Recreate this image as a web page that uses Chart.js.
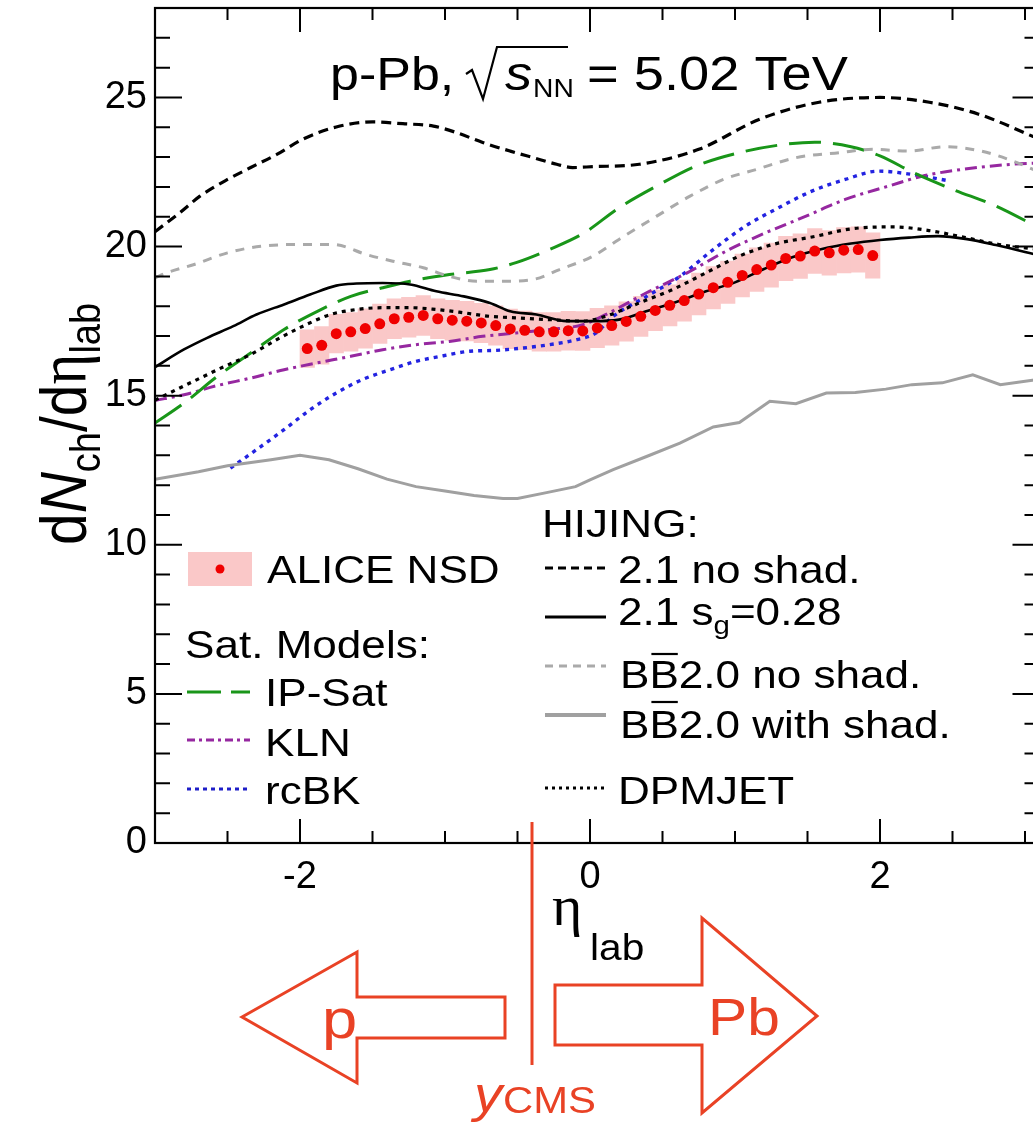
<!doctype html>
<html>
<head>
<title>dNch/deta p-Pb 5.02 TeV</title>
<script src="https://cdn.jsdelivr.net/npm/chart.js@4.4.0/dist/chart.umd.min.js"></script>
<style>
  html, body { margin: 0; padding: 0; overflow: hidden; background: #fff; }
  #wrap { width: 1045px; height: 1122px; }
</style>
</head>
<body>
<div id="wrap"><canvas id="canvas" width="1045" height="1122"></canvas></div>
<script>
// ALICE NSD data points (eta_lab, value, systematic)
const aliceEta = [-1.95, -1.85, -1.75, -1.65, -1.55, -1.45, -1.35, -1.25, -1.15, -1.05,
                  -0.95, -0.85, -0.75, -0.65, -0.55, -0.45, -0.35, -0.25, -0.15, -0.05,
                  0.05, 0.15, 0.25, 0.35, 0.45, 0.55, 0.65, 0.75, 0.85, 0.95,
                  1.05, 1.15, 1.25, 1.35, 1.45, 1.55, 1.65, 1.75, 1.85, 1.95];
const aliceVal = [16.58, 16.69, 17.08, 17.14, 17.25, 17.41, 17.58, 17.63, 17.69, 17.58,
                  17.53, 17.50, 17.44, 17.35, 17.24, 17.19, 17.14, 17.14, 17.18, 17.17,
                  17.27, 17.35, 17.49, 17.66, 17.86, 18.03, 18.19, 18.41, 18.62, 18.80,
                  19.03, 19.23, 19.38, 19.60, 19.68, 19.85, 19.79, 19.88, 19.90, 19.70];
const aliceSys = [0.63, 0.63, 0.65, 0.65, 0.66, 0.66, 0.67, 0.67, 0.67, 0.67,
                  0.67, 0.66, 0.66, 0.66, 0.66, 0.65, 0.65, 0.65, 0.65, 0.65,
                  0.66, 0.66, 0.66, 0.67, 0.68, 0.69, 0.69, 0.70, 0.71, 0.71,
                  0.72, 0.73, 0.74, 0.74, 0.75, 0.75, 0.75, 0.76, 0.76, 0.76];

// HIJING 2.1 no shadowing
const hijNoShadEta = [-3.0, -2.83, -2.69, -2.5, -2.34, -2.16, -1.98, -1.75, -1.5, -1.29, -1.08, -0.92, -0.74,
                      -0.55, -0.39, -0.23, -0.12, 0.02, 0.34, 0.75, 1.17, 1.58, 2.0, 2.34, 2.68, 3.1];
const hijNoShadVal = [20.5, 21.13, 21.69, 22.25, 22.65, 23.09, 23.6, 24.01, 24.18, 24.12, 24.04, 23.82, 23.49,
                      23.2, 22.98, 22.76, 22.65, 22.68, 22.76, 23.26, 24.27, 24.84, 25.0, 24.84, 24.44, 23.6];
// HIJING 2.1 s_g = 0.28
const hijSgEta = [-3.0, -2.8, -2.64, -2.46, -2.3, -2.11, -1.93, -1.75, -1.61, -1.43, -1.24, -1.06, -0.87,
                  -0.69, -0.55, -0.37, -0.16, 0.02, 0.2, 0.4, 0.6, 0.8, 1.0, 1.2, 1.4, 1.6, 1.8, 2.0,
                  2.2, 2.4, 2.6, 2.8, 3.1];
const hijSgVal = [15.96, 16.55, 16.94, 17.33, 17.72, 18.06, 18.39, 18.69, 18.76, 18.78, 18.73, 18.5, 18.33,
                  18.11, 17.83, 17.72, 17.5, 17.5, 17.55, 17.85, 18.15, 18.5, 18.8, 19.25, 19.65, 19.92, 20.1, 20.22,
                  20.3, 20.35, 20.25, 20.05, 19.7];
// HIJING BB2.0 no shadowing
const bbNoShadEta = [-3.0, -2.92, -2.73, -2.5, -2.27, -2.0, -1.77, -1.54, -1.36, -1.15, -0.97, -0.78, -0.6,
                     -0.39, -0.21, 0.02, 0.2, 0.46, 0.69, 0.92, 1.15, 1.42, 1.72, 1.95, 2.2, 2.45, 2.7, 2.9, 3.1];
const bbNoShadVal = [18.95, 19.12, 19.4, 19.79, 20.01, 20.07, 20.07, 19.73, 19.51, 19.29, 19.0, 18.84, 18.84,
                     18.9, 19.23, 19.68, 20.24, 21.02, 21.69, 22.25, 22.59, 22.98, 23.15, 23.26, 23.2, 23.35, 23.2, 22.9, 22.5];
// HIJING BB2.0 with shadowing
const bbShadEta = [-3.0, -2.7, -2.5, -2.2, -2.0, -1.8, -1.6, -1.4, -1.2, -1.0, -0.8, -0.6, -0.5, -0.3, -0.1,
                   0.0, 0.16, 0.39, 0.62, 0.85, 1.03, 1.24, 1.42, 1.63, 1.83, 2.04, 2.22, 2.43, 2.64, 2.83, 3.1];
const bbShadVal = [12.2, 12.45, 12.65, 12.85, 13.0, 12.85, 12.55, 12.2, 11.95, 11.8, 11.65, 11.55, 11.55, 11.75, 11.95,
                   12.18, 12.52, 12.96, 13.41, 13.95, 14.1, 14.81, 14.73, 15.09, 15.11, 15.22, 15.37, 15.43, 15.7, 15.37, 15.55];
// DPMJET
const dpmEta = [-3.0, -2.9, -2.71, -2.53, -2.34, -2.16, -1.98, -1.79, -1.61, -1.43, -1.24, -1.06, -0.87, -0.69,
                -0.51, -0.28, -0.05, 0.1, 0.34, 0.57, 0.8, 1.03, 1.26, 1.54, 1.81, 2.09, 2.36, 2.59, 2.82, 3.1];
const dpmVal = [14.85, 15.09, 15.54, 15.96, 16.38, 16.88, 17.33, 17.72, 17.89, 17.95, 17.95, 17.89, 17.78, 17.66,
                17.61, 17.55, 17.5, 17.65, 18.11, 18.56, 19.12, 19.68, 20.07, 20.33, 20.6, 20.66, 20.52, 20.3, 20.07, 19.9];
// Saturation models
const ipSatEta = [-3.0, -2.8, -2.57, -2.34, -2.11, -1.88, -1.65, -1.43, -1.24, -0.97, -0.69, -0.51, -0.28, -0.04,
                  0.2, 0.46, 0.73, 1.03, 1.3, 1.55, 1.8, 2.0, 2.23, 2.5, 2.8, 3.1];
const ipSatVal = [14.08, 14.75, 15.65, 16.43, 17.22, 17.83, 18.33, 18.62, 18.84, 19.06, 19.23, 19.46, 19.9, 20.46,
                  21.3, 22.03, 22.7, 23.15, 23.4, 23.5, 23.35, 23.04, 22.48, 21.92, 21.36, 20.62];
const klnEta = [-3.0, -2.8, -2.57, -2.34, -2.11, -1.88, -1.65, -1.43, -1.2, -0.97, -0.74, -0.51, -0.28, -0.05,
                0.1, 0.39, 0.67, 0.96, 1.21, 1.49, 1.76, 2.06, 2.29, 2.57, 2.91, 3.1];
const klnVal = [14.84, 15.03, 15.34, 15.59, 15.87, 16.1, 16.32, 16.54, 16.71, 16.82, 16.99, 17.1, 17.22, 17.38,
                17.7, 18.45, 19.12, 19.9, 20.46, 21.02, 21.58, 22.03, 22.36, 22.59, 22.76, 22.8];
const rcbkEta = [-2.48, -2.3, -2.11, -1.93, -1.75, -1.57, -1.38, -1.2, -1.01, -0.83, -0.65, -0.46, -0.28, -0.09,
                 0.04, 0.16, 0.39, 0.62, 0.85, 1.07, 1.3, 1.53, 1.76, 1.99, 2.22, 2.48];
const rcbkVal = [12.57, 13.19, 13.86, 14.53, 15.09, 15.54, 15.87, 16.15, 16.34, 16.49, 16.52, 16.6, 16.71, 16.88,
                 17.1, 17.66, 18.33, 19.0, 19.9, 20.68, 21.3, 21.86, 22.25, 22.53, 22.42, 22.2];

const yCMS = -0.4;
const xMin = -3, xMax = 3.1, yMin = 0, yMax = 28;

const RED = 'rgb(233,66,37)';
const PINK = 'rgb(250,200,200)';
const SX = 1.13;   // text in the figure is a bit wide

function pts(xs, ys) { return xs.map((x, i) => ({ x: x, y: ys[i] })); }

function curve(label, xs, ys, color, dash, width, smooth) {
    return {
        type: 'line', label: label, data: pts(xs, ys),
        borderColor: color, borderWidth: width, borderDash: dash,
        pointRadius: 0, fill: false, order: 5,
        cubicInterpolationMode: smooth ? 'monotone' : 'default', tension: 0
    };
}

function stext(ctx, s, x, y, font, color) {
    ctx.save();
    ctx.font = font;
    ctx.fillStyle = color || '#000';
    ctx.textBaseline = 'alphabetic';
    ctx.textAlign = 'left';
    ctx.translate(x, y);
    ctx.scale(SX, 1);
    ctx.fillText(s, 0, 0);
    const w = ctx.measureText(s).width * SX;
    ctx.restore();
    return w;
}

function seg(ctx, x0, x1, y, color, dash, width) {
    ctx.save();
    ctx.strokeStyle = color; ctx.lineWidth = width; ctx.setLineDash(dash);
    ctx.beginPath(); ctx.moveTo(x0, y); ctx.lineTo(x1, y); ctx.stroke();
    ctx.restore();
}

const F = '39px "Liberation Sans", Arial, sans-serif';

const decorations = {
    id: 'decorations',
    afterDraw(chart) {
        const ctx = chart.ctx;
        const a = chart.chartArea;
        const xs = chart.scales.x, ys = chart.scales.y;

        // frame and inward ticks
        ctx.save();
        ctx.strokeStyle = '#000';
        ctx.lineWidth = 2.2;
        ctx.setLineDash([]);
        ctx.strokeRect(a.left, a.top, a.right - a.left, a.bottom - a.top);
        ctx.lineWidth = 2;
        ctx.beginPath();
        for (let k = -6; k <= 6; k++) {
            const px = xs.getPixelForValue(k * 0.5);
            const len = (k % 4 === 0) ? 24 : 12;
            ctx.moveTo(px, a.bottom); ctx.lineTo(px, a.bottom - len);
            ctx.moveTo(px, a.top); ctx.lineTo(px, a.top + len);
        }
        for (let v = 0; v <= 28; v++) {
            const py = ys.getPixelForValue(v);
            const len = (v % 5 === 0) ? 27 : 15;
            ctx.moveTo(a.left, py); ctx.lineTo(a.left + len, py);
            ctx.moveTo(a.right, py); ctx.lineTo(a.right - len, py);
        }
        ctx.stroke();
        ctx.restore();

        // title
        const tb = 90;
        stext(ctx, 'p-Pb,', 330, tb, '46px "Liberation Sans", Arial, sans-serif');
        ctx.save();
        ctx.strokeStyle = '#000'; ctx.lineWidth = 2.2; ctx.setLineDash([]);
        ctx.beginPath();
        ctx.moveTo(466, 74); ctx.lineTo(472, 70); ctx.lineTo(483, 99);
        ctx.lineTo(497, 47); ctx.lineTo(568, 47);
        ctx.stroke();
        ctx.restore();
        stext(ctx, 's', 505, tb, 'italic 48px "Liberation Sans", Arial, sans-serif');
        stext(ctx, 'NN', 533, tb + 7, '25px "Liberation Sans", Arial, sans-serif');
        stext(ctx, '= 5.02 TeV', 587, tb, '48px "Liberation Sans", Arial, sans-serif');

        // y axis title (rotated)
        ctx.save();
        ctx.translate(86, 545);
        ctx.rotate(-Math.PI / 2);
        ctx.scale(1, SX);
        ctx.fillStyle = '#000';
        ctx.textBaseline = 'alphabetic';
        let t = 0;
        const big = '57px "Liberation Sans", Arial, sans-serif';
        const sub = '38px "Liberation Sans", Arial, sans-serif';
        ctx.font = big; ctx.fillText('d', t, 0); t += ctx.measureText('d').width;
        ctx.font = 'italic ' + big; ctx.fillText('N', t, 0); t += ctx.measureText('N').width;
        ctx.font = sub; ctx.fillText('ch', t, 12); t += ctx.measureText('ch').width;
        ctx.font = big; ctx.fillText('/d', t, 0); t += ctx.measureText('/d').width;
        ctx.font = '59px "Liberation Serif", serif'; ctx.fillText('\u03b7', t, 0); t += ctx.measureText('\u03b7').width;
        ctx.font = sub; ctx.fillText('lab', t, 12);
        ctx.restore();

        // left legend
        ctx.save();
        ctx.fillStyle = PINK; ctx.fillRect(188, 552, 64, 34);
        ctx.fillStyle = 'rgb(240,0,0)';
        ctx.beginPath(); ctx.arc(220, 569, 4.5, 0, Math.PI * 2); ctx.fill();
        ctx.restore();
        stext(ctx, 'ALICE NSD', 267, 583, F);
        stext(ctx, 'Sat. Models:', 185, 658, F);
        seg(ctx, 187, 250, 692, 'rgb(25,150,25)', [34, 10], 3);
        stext(ctx, 'IP-Sat', 265, 706, F);
        seg(ctx, 187, 250, 740, 'rgb(150,40,160)', [8, 4, 3, 4], 3);
        stext(ctx, 'KLN', 265, 756, F);
        seg(ctx, 187, 250, 789, 'rgb(30,30,200)', [4, 4], 3);
        stext(ctx, 'rcBK', 265, 804, F);

        // right legend
        stext(ctx, 'HIJING:', 542, 537, F);
        seg(ctx, 545, 606, 568, '#000', [8, 5], 3);
        stext(ctx, '2.1 no shad.', 618, 583, F);
        seg(ctx, 545, 606, 617, '#000', [], 3);
        const w = stext(ctx, '2.1 s', 618, 625, F);
        const w2 = stext(ctx, 'g', 618 + w, 634, '26px "Liberation Sans", Arial, sans-serif');
        stext(ctx, '=0.28', 618 + w + w2, 625, F);
        seg(ctx, 545, 606, 666, 'rgb(170,170,170)', [8, 6], 3);
        ctx.save(); ctx.font = F; const bw = ctx.measureText('B').width * SX; ctx.restore();
        stext(ctx, 'BB2.0 no shad.', 620, 688, F);
        seg(ctx, 620 + bw + 2, 620 + 2 * bw - 1, 654, '#000', [], 2.2);
        seg(ctx, 545, 606, 715, 'rgb(160,160,160)', [], 4);
        stext(ctx, 'BB2.0 with shad.', 620, 738, F);
        seg(ctx, 620 + bw + 2, 620 + 2 * bw - 1, 702, '#000', [], 2.2);
        seg(ctx, 545, 606, 788, '#000', [3, 4], 3);
        stext(ctx, 'DPMJET', 618, 804, F);

        // eta_lab axis title
        ctx.save();
        ctx.fillStyle = '#000';
        ctx.font = '58px "Liberation Serif", serif';
        ctx.fillText('\u03b7', 552, 925);
        ctx.restore();
        stext(ctx, 'lab', 590, 960, '36px "Liberation Sans", Arial, sans-serif');

        // y_CMS line and beam arrows
        const lx = xs.getPixelForValue(yCMS);
        ctx.save();
        ctx.strokeStyle = RED; ctx.lineWidth = 3; ctx.setLineDash([]);
        ctx.lineJoin = 'miter';
        ctx.beginPath(); ctx.moveTo(lx, 822); ctx.lineTo(lx, 1065); ctx.stroke();
        ctx.beginPath();
        ctx.moveTo(242, 1017); ctx.lineTo(357, 952); ctx.lineTo(357, 997); ctx.lineTo(505, 997);
        ctx.lineTo(505, 1038); ctx.lineTo(357, 1038); ctx.lineTo(357, 1083); ctx.closePath();
        ctx.stroke();
        ctx.beginPath();
        ctx.moveTo(555, 985); ctx.lineTo(702, 985); ctx.lineTo(702, 918); ctx.lineTo(817, 1016);
        ctx.lineTo(702, 1113); ctx.lineTo(702, 1045); ctx.lineTo(555, 1045); ctx.closePath();
        ctx.stroke();
        ctx.restore();
        stext(ctx, 'p', 322, 1038, '56px "Liberation Sans", Arial, sans-serif', RED);
        stext(ctx, 'Pb', 708, 1035, '52px "Liberation Sans", Arial, sans-serif', RED);
        stext(ctx, 'y', 474, 1112, 'italic 50px "Liberation Sans", Arial, sans-serif', RED);
        stext(ctx, 'CMS', 503, 1113, '37px "Liberation Sans", Arial, sans-serif', RED);
    }
};

const datasets = [
    {
        type: 'scatter', label: 'ALICE NSD', data: pts(aliceEta, aliceVal),
        backgroundColor: 'rgb(240,0,0)', borderColor: 'rgb(240,0,0)',
        pointRadius: 5.5, borderWidth: 0, showLine: false, order: 0
    },
    curve('2.1 no shad.', hijNoShadEta, hijNoShadVal, '#000', [10, 6], 3.2, true),
    curve('2.1 sg=0.28', hijSgEta, hijSgVal, '#000', [], 2.6, true),
    curve('BB2.0 no shad.', bbNoShadEta, bbNoShadVal, 'rgb(170,170,170)', [9, 8], 3, true),
    curve('BB2.0 with shad.', bbShadEta, bbShadVal, 'rgb(160,160,160)', [], 3, false),
    curve('DPMJET', dpmEta, dpmVal, '#000', [4, 5], 3.2, true),
    curve('IP-Sat', ipSatEta, ipSatVal, 'rgb(25,150,25)', [32, 12], 3, true),
    curve('KLN', klnEta, klnVal, 'rgb(150,40,160)', [12, 5, 3, 5], 3, true),
    curve('rcBK', rcbkEta, rcbkVal, 'rgb(35,35,225)', [4, 5], 3.4, true),
    {
        type: 'bar', label: 'ALICE sys',
        data: aliceEta.map((x, i) => ({ x: x, y: [aliceVal[i] - aliceSys[i], aliceVal[i] + aliceSys[i]] })),
        backgroundColor: PINK, borderWidth: 0,
        barPercentage: 1.0, categoryPercentage: 1.0, grouped: false, order: 10
    }
];

function noPad(scale) {
    scale.paddingTop = 0; scale.paddingBottom = 0;
    scale.paddingLeft = 0; scale.paddingRight = 0;
}

new Chart(document.getElementById('canvas'), {
    type: 'line',
    data: { datasets: datasets },
    options: {
        responsive: false,
        animation: false,
        devicePixelRatio: 1,
        layout: { padding: { left: 0, top: 8, right: 5, bottom: 0 } },
        plugins: { legend: { display: false }, tooltip: { enabled: false } },
        scales: {
            x: {
                type: 'linear', min: xMin, max: xMax, offset: false,
                grid: { display: false, drawTicks: false, offset: false },
                border: { display: false },
                ticks: {
                    stepSize: 2, includeBounds: false, padding: 12, color: '#000',
                    font: { family: '"Liberation Sans", Arial, sans-serif', size: 38 },
                    maxRotation: 0
                },
                afterFit(scale) { scale.height = 279; noPad(scale); }
            },
            y: {
                type: 'linear', min: yMin, max: yMax,
                grid: { display: false, drawTicks: false },
                border: { display: false },
                ticks: {
                    stepSize: 5, includeBounds: false, padding: 8, color: '#000',
                    font: { family: '"Liberation Sans", Arial, sans-serif', size: 38 }
                },
                afterFit(scale) { scale.width = 155; noPad(scale); }
            }
        }
    },
    plugins: [decorations]
});
</script>
</body>
</html>
